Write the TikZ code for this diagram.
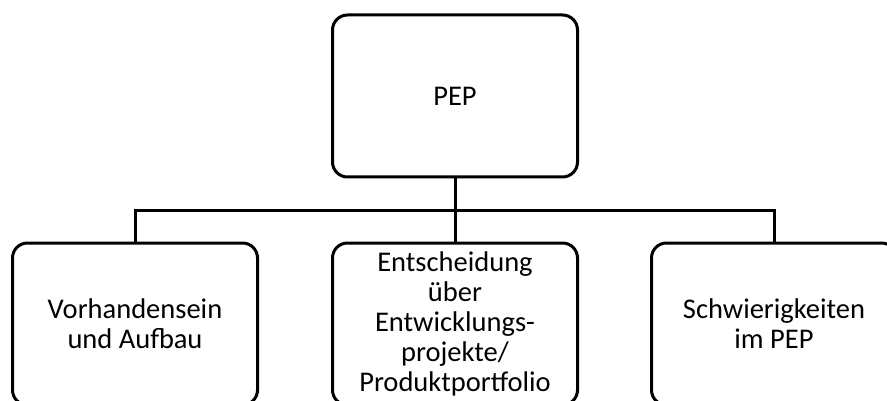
\documentclass[tikz,border=0pt]{standalone}
\usepackage{fontspec}
\setmainfont{Carlito}
\begin{document}
\begin{tikzpicture}[x=1pt,y=-1pt,
  box/.style={draw=black, line width=3pt, rounded corners=15pt,
    minimum width=245pt, minimum height=162pt, inner sep=0pt, outer sep=0pt,
    align=center, font=\fontsize{28.5}{30}\selectfont},
  link/.style={draw=black, line width=3pt}]
  \useasboundingbox (0,0) rectangle (887,401);
  \clip (0,0) rectangle (887,401);
  % parent
  \node[box] (pep) at (455,96) {PEP};
  % children
  \node[box] (vor) at (135,324) {Vorhandensein\\und Aufbau};
  \node[box] (ent) at (455,324) {Entscheidung\\über\\Entwicklungs-\\projekte/\\Produktportfolio};
  \node[box] (sch) at (774,324) {Schwierigkeiten\\im PEP};
  % connector bus
  \coordinate (bus) at (455,211);
  \path[link] (vor.north) |- (bus) -| (sch.north);
  \path[link] (pep.south) -- (ent.north);
\end{tikzpicture}
\end{document}
